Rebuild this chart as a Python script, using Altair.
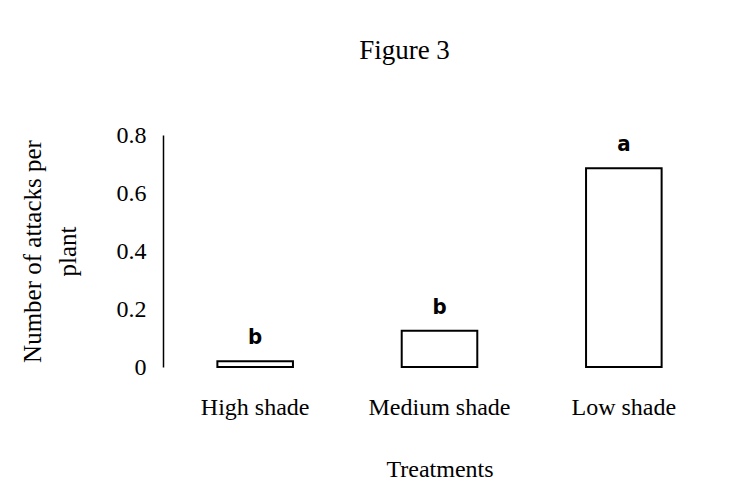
import altair as alt
import pandas as pd

treatments = ["High shade", "Medium shade", "Low shade"]
attacks = [0.02, 0.125, 0.685]
letters = ["b", "b", "a"]

df = pd.DataFrame({"Treatment": treatments, "Attacks": attacks, "Letter": letters})

serif = "Liberation Serif"

x = alt.X("Treatment:N", sort=treatments,
          scale=alt.Scale(paddingInner=0.59, paddingOuter=0.295),
          axis=alt.Axis(title="Treatments", labelAngle=0, domain=False, ticks=False,
                        labelFont=serif, labelFontSize=24, labelColor="black",
                        labelPadding=28, titleFont=serif, titleFontSize=24,
                        titleFontWeight="normal", titleColor="black", titlePadding=38))
y = alt.Y("Attacks:Q",
          scale=alt.Scale(domain=[0, 0.8], nice=False),
          axis=alt.Axis(title=["Number of attacks per", "plant"], values=[0, 0.2, 0.4, 0.6, 0.8],
                        grid=False, ticks=False, domainColor="black", domainWidth=1.5,
                        labelExpr="datum.value == 0 ? '0' : format(datum.value, '.1f')",
                        labelFont=serif, labelFontSize=24, labelColor="black", labelPadding=17,
                        titleFont=serif, titleFontSize=25, titleFontWeight="normal",
                        titleColor="black", titleX=-143, titleBaseline="top",
                        titleLineHeight=35))

bars = alt.Chart(df).mark_bar(fill="white", stroke="black", strokeWidth=2).encode(x=x, y=y)
text = alt.Chart(df).mark_text(font="DejaVu Sans Condensed, Liberation Sans", fontWeight="bold",
                               fontSize=22, baseline="alphabetic", dy=-17, color="black").encode(
    x=alt.X("Treatment:N", sort=treatments), y="Attacks:Q", text="Letter:N")

chart = (bars + text).properties(
    width=553, height=232,
    title=alt.TitleParams("Figure 3", font=serif, fontSize=27, fontWeight="normal",
                          color="black", offset=58, dx=-35),
    autosize=alt.AutoSizeParams(type="none"),
    padding={"left": 155, "top": 127, "right": 6, "bottom": 114},
).configure_view(stroke=None)

chart.save("out.html", embed_options={"renderer": "svg", "actions": False})
